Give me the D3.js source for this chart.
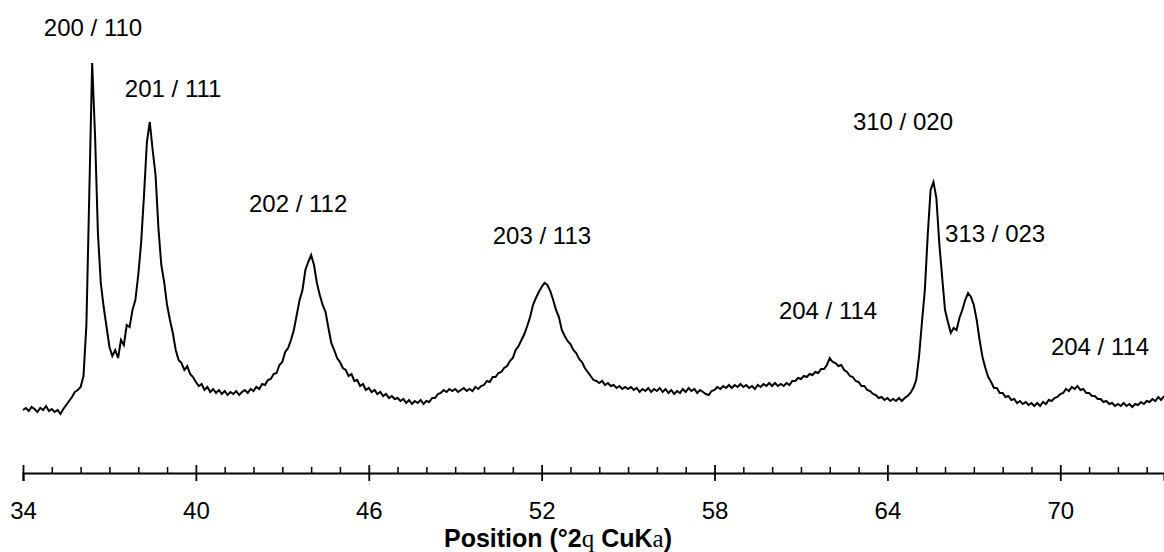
<!DOCTYPE html>
<html>
<head>
<meta charset="utf-8">
<script src="https://cdn.jsdelivr.net/npm/d3@7/dist/d3.min.js"></script>
<style>
  html, body { margin: 0; padding: 0; background: #ffffff; }
  svg { display: block; }
</style>
</head>
<body>
<svg id="chart" width="1164" height="552"></svg>
<script>
// ---- data ----
const twoThetaStart = 34.0;
const twoThetaStep = 0.1;
// intensity (counts), one value per 0.1 deg from 34.0 to 73.6
const intensity = [
  400, 420, 390, 430, 410, 380, 420, 400, 440, 390,
  410, 380, 400, 360, 410, 450, 490, 530, 580, 600,
  630, 740, 1250, 2550, 3870, 3150, 2170, 1670, 1430, 1230,
  1030, 940, 1000, 920, 1100, 1050, 1250, 1230, 1400, 1500,
  1750, 2070, 2550, 3080, 3280, 3000, 2750, 2220, 1850, 1680,
  1450, 1300, 1170, 1000, 900, 870, 800, 840, 760, 730,
  680, 640, 660, 600, 630, 580, 610, 570, 600, 560,
  590, 550, 580, 560, 590, 550, 580, 600, 570, 610,
  590, 630, 610, 660, 650, 700, 710, 760, 770, 850,
  880, 980, 1020, 1100, 1200, 1350, 1500, 1600, 1800, 1880,
  1950, 1850, 1670, 1550, 1450, 1380, 1220, 1070, 1000, 920,
  880, 820, 800, 740, 760, 690, 700, 640, 660, 600,
  620, 580, 600, 560, 580, 540, 560, 520, 540, 510,
  520, 490, 510, 470, 500, 460, 490, 470, 500, 460,
  490, 480, 520, 520, 560, 570, 600, 580, 610, 590,
  610, 580, 600, 620, 590, 610, 590, 630, 610, 640,
  650, 690, 680, 730, 730, 770, 780, 820, 840, 890,
  920, 1000, 1040, 1100, 1160, 1240, 1330, 1450, 1520, 1580,
  1630, 1670, 1650, 1590, 1500, 1400, 1330, 1200, 1140, 1090,
  1060, 1000, 970, 910, 880, 820, 780, 740, 700, 690,
  670, 690, 650, 670, 640, 650, 620, 640, 610, 630,
  610, 630, 600, 620, 580, 610, 590, 620, 580, 610,
  590, 620, 580, 610, 570, 600, 560, 590, 570, 610,
  580, 620, 590, 610, 570, 600, 580, 560, 550, 590,
  600, 630, 610, 640, 620, 650, 620, 650, 630, 660,
  630, 650, 620, 640, 610, 650, 630, 660, 640, 670,
  640, 670, 640, 660, 640, 670, 650, 690, 690, 720,
  710, 740, 730, 760, 750, 780, 770, 810, 810, 850,
  920, 880, 870, 840, 850, 800, 780, 740, 730, 690,
  680, 640, 640, 600, 590, 560, 550, 520, 530, 500,
  520, 490, 510, 490, 520, 490, 520, 540, 570, 620,
  700, 940, 1280, 1600, 2150, 2600, 2680, 2520, 2070, 1730,
  1400, 1280, 1170, 1220, 1200, 1320, 1400, 1500, 1570, 1530,
  1450, 1300, 1100, 930, 820, 730, 680, 620, 620, 570,
  570, 530, 540, 500, 510, 470, 490, 460, 480, 450,
  470, 440, 470, 440, 480, 460, 500, 490, 520, 530,
  560, 570, 610, 590, 630, 610, 640, 600, 610, 570,
  570, 540, 540, 510, 510, 480, 490, 460, 470, 440,
  460, 440, 470, 440, 460, 430, 460, 450, 480, 460,
  490, 480, 510, 490, 530, 500, 540
];
const majorTicks = [34, 40, 46, 52, 58, 64, 70];
const minorTicks = [35, 36, 37, 38, 39, 41, 42, 43, 44, 45, 47, 48, 49, 50, 51,
                    53, 54, 55, 56, 57, 59, 60, 61, 62, 63, 65, 66, 67, 68, 69,
                    71, 72, 73];
// peak annotations: text, 2theta (centre) and intensity level of text baseline
const peakLabels = ["200 / 110", "201 / 111", "202 / 112", "203 / 113",
                    "310 / 020", "313 / 023", "204 / 114", "204 / 114"];
const peakLabelTheta = [36.43, 39.21, 43.55, 52.01, 64.54, 67.74, 61.94, 71.38];
const peakLabelLevel = [4140, 3530, 2380, 2060, 3200, 2080, 1310, 950];

// ---- chart ----
const W = 1164, H = 552;
const svg = d3.select("#chart");
svg.append("rect").attr("width", W).attr("height", H).attr("fill", "#fff");

const x = d3.scaleLinear().domain([34, 73.6]).range([23, 1164]);
const y = d3.scaleLinear().domain([0, 4000]).range([450, 50]);

const pts = intensity.map((c, i) => ({ t: twoThetaStart + i * twoThetaStep, c }));

svg.append("path")
  .datum(pts)
  .attr("fill", "none")
  .attr("stroke", "#000")
  .attr("stroke-width", 2)
  .attr("stroke-linejoin", "miter")
  .attr("d", d3.line().x(d => x(d.t)).y(d => y(d.c)));

// labels
svg.append("g")
  .selectAll("text")
  .data(peakLabels.map((s, i) => ({ s, t: peakLabelTheta[i], c: peakLabelLevel[i] })))
  .join("text")
  .attr("x", d => x(d.t))
  .attr("y", d => y(d.c))
  .attr("text-anchor", "middle")
  .attr("font-family", "'Liberation Sans', Arial, sans-serif")
  .attr("font-size", 24)
  .attr("fill", "#000")
  .text(d => d.s);

// axis
const axisY = 473;
const gMinor = svg.append("g").attr("transform", `translate(0,${axisY})`)
  .call(d3.axisBottom(x).tickValues(minorTicks).tickSize(-6).tickFormat(""));
gMinor.select(".domain").remove();
gMinor.selectAll(".tick line").attr("stroke", "#000").attr("stroke-width", 1.5);

const gMajor = svg.append("g").attr("transform", `translate(0,${axisY})`)
  .call(d3.axisBottom(x).tickValues(majorTicks).tickSizeOuter(0).tickSize(8).tickFormat(d3.format("d")));
gMajor.select(".domain").attr("stroke", "#000").attr("stroke-width", 2);
gMajor.selectAll(".tick line").attr("y1", -8).attr("y2", 8).attr("stroke", "#000").attr("stroke-width", 1.8);
gMajor.selectAll(".tick text")
  .attr("y", 46).attr("dy", 0)
  .attr("font-family", "'Liberation Sans', Arial, sans-serif")
  .attr("font-size", 24)
  .attr("fill", "#000");

// axis title
const title = svg.append("text")
  .attr("x", 558).attr("y", 547)
  .attr("text-anchor", "middle")
  .attr("font-family", "'Liberation Sans', Arial, sans-serif")
  .attr("font-size", 25)
  .attr("font-weight", "bold")
  .attr("fill", "#000");
title.append("tspan").text("Position (°2");
title.append("tspan").attr("font-family", "'Liberation Serif', serif").attr("font-weight", "normal").text("q");
title.append("tspan").text(" CuK");
title.append("tspan").attr("font-family", "'Liberation Serif', serif").attr("font-weight", "normal").text("a");
title.append("tspan").text(")");
</script>
</body>
</html>
